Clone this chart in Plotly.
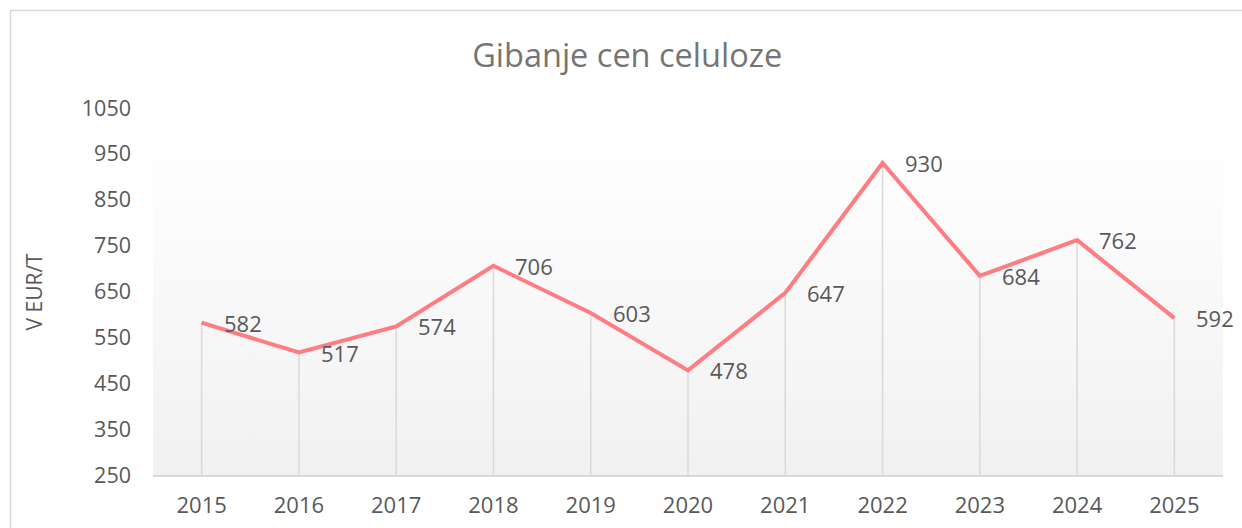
import plotly.graph_objects as go

years = ["2015", "2016", "2017", "2018", "2019", "2020", "2021", "2022", "2023", "2024", "2025"]
prices = [582, 517, 574, 706, 603, 478, 647, 930, 684, 762, 592]
y_ticks = [250, 350, 450, 550, 650, 750, 850, 950, 1050]

title_text = "Gibanje cen celuloze"
y_title = "V EUR/T"

FONT = "Open Sans"
TXT = "#595959"
LINE = "#FF7C80"
W, H = 1242, 528
L, R, T, B = 153, 19, 108, 53

idx = list(range(len(years)))
ymin, ymax = y_ticks[0], y_ticks[-1]

fig = go.Figure()

# background gradient of the plot area
fig.add_trace(go.Scatter(
    x=[-0.5, len(years) - 0.5, len(years) - 0.5, -0.5, -0.5],
    y=[ymin, ymin, 945, 945, ymin],
    mode="none", fill="toself",
    fillgradient=dict(type="vertical", colorscale=[[0, "#f1f1f1"], [1, "#fefefe"]]),
    hoverinfo="skip", showlegend=False,
))

# drop lines from each point to the axis
fig.add_trace(go.Scatter(
    x=idx, y=prices, mode="markers",
    marker=dict(size=0.1, color="rgba(0,0,0,0)"),
    error_y=dict(type="data", symmetric=False, array=[0] * len(prices),
                 arrayminus=[p - ymin for p in prices],
                 color="#d9d9d9", thickness=1.5, width=0),
    hoverinfo="skip", showlegend=False,
))

fig.add_trace(go.Scatter(
    x=idx, y=prices, mode="lines",
    line=dict(color=LINE, width=4),
    showlegend=False,
))

for i, p in zip(idx, prices):
    fig.add_annotation(x=i, y=p, text=str(p), showarrow=False,
                       xanchor="left", yanchor="middle", xshift=20,
                       font=dict(family=FONT, size=22, color=TXT))

fig.add_annotation(xref="paper", yref="paper", x=(33 - L) / (W - L - R), y=0.5,
                   text=y_title, textangle=-90, showarrow=False,
                   xanchor="center", yanchor="middle",
                   font=dict(family=FONT, size=21, color=TXT))

# outer chart border
fig.add_shape(type="rect", xref="paper", yref="paper",
              x0=(10.5 - L) / (W - L - R), x1=1.2,
              y0=-0.5, y1=1 + (T - 10.5) / (H - T - B),
              line=dict(color="#d9d9d9", width=1.5), fillcolor="rgba(0,0,0,0)")

fig.update_layout(
    width=W, height=H,
    margin=dict(l=L, r=R, t=T, b=B, autoexpand=False),
    paper_bgcolor="white", plot_bgcolor="white",
    title=dict(text=title_text, x=0.505, xanchor="center", y=1 - 56 / H, yanchor="middle",
               yref="container", font=dict(family=FONT, size=32.5, color="#757575")),
    font=dict(family=FONT, color=TXT),
    xaxis=dict(range=[-0.5, len(years) - 0.5], tickvals=idx, ticktext=years,
               showgrid=False, zeroline=False, showline=True, linecolor="#d9d9d9",
               linewidth=1.5, ticks="", ticklabelstandoff=10, automargin=False,
               tickfont=dict(family=FONT, size=22, color=TXT)),
    yaxis=dict(range=[ymin, ymax], tickvals=y_ticks, showgrid=False, zeroline=False,
               showline=False, ticks="", ticklabelstandoff=21, automargin=False,
               tickfont=dict(family=FONT, size=21.5, color=TXT)),
)

fig.write_html("out.html", config={"displayModeBar": False},
               post_script="document.body.style.margin='0';")
